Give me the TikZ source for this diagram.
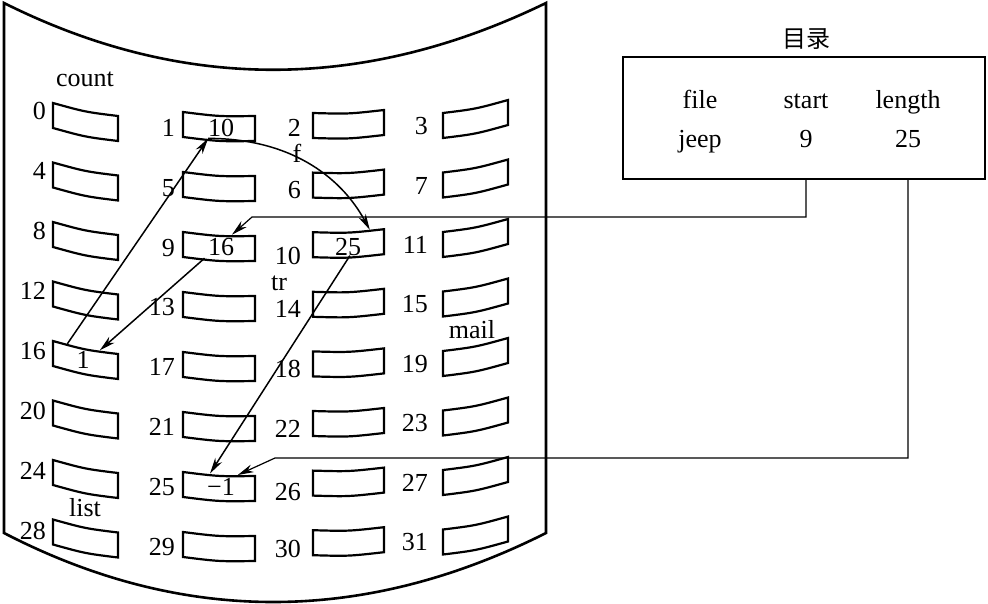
\documentclass[tikz,border=0pt]{standalone}
\usepackage{fontspec}
\setmainfont{Liberation Serif}
\newfontfamily\cjkfont{Noto Sans CJK SC}
\usetikzlibrary{arrows.meta,calc}
\newcommand{\dbox}[6]{%
  \pgfmathsetmacro{\dbmx}{(#2+#4)/2}%
  \pgfmathsetmacro{\dbmy}{(#3+#5)/2+2.5}%
  \pgfmathsetmacro{\dbmyb}{\dbmy+#6}%
  \pgfmathsetmacro{\dbyl}{#3+#6}%
  \pgfmathsetmacro{\dbyr}{#5+#6}%
  \coordinate (#1-tl) at (#2,#3);
  \coordinate (#1-tr) at (#4,#5);
  \coordinate (#1-bl) at (#2,\dbyl);
  \coordinate (#1-br) at (#4,\dbyr);
  \draw[boxline] (#1-tl) .. controls (\dbmx,\dbmy) .. (#1-tr) -- (#1-br) .. controls (\dbmx,\dbmyb) .. (#1-bl) -- cycle;
}
\begin{document}
\begin{tikzpicture}[x=1pt,y=-1pt,
  font=\fontsize{26}{30}\selectfont,
  boxline/.style={line width=2.2pt},
  disk/.style={line width=2.6pt},
  link/.style={line width=1.5pt, -{Stealth[length=16pt,width=8pt,inset=5pt]}},
  dirlink/.style={line width=1.2pt, -{Stealth[length=16pt,width=8pt,inset=5pt]}},
  num/.style={inner sep=0pt, anchor=east},
  val/.style={inner sep=0pt},
  hd/.style={inner sep=0pt, anchor=base},
]
\useasboundingbox (0,0) rectangle (988,603);
% disk outline
\draw[disk] (4,533) -- (4,3) .. controls (182,92) and (363,92) .. (546,3) -- (546,533)
  .. controls (363,625) and (182,625) .. (4,533) -- cycle;
% blocks
\foreach \i in {0,...,7}{
  \pgfmathtruncatemacro{\na}{4*\i}
  \pgfmathtruncatemacro{\nb}{4*\i+1}
  \pgfmathtruncatemacro{\nc}{4*\i+2}
  \pgfmathtruncatemacro{\nd}{4*\i+3}
  \pgfmathsetmacro{\ya}{103+59.5*\i}
  \pgfmathsetmacro{\yaa}{\ya+13}
  \pgfmathsetmacro{\yb}{112+60*\i}
  \pgfmathsetmacro{\ybb}{\yb+4}
  \pgfmathsetmacro{\yc}{113+59.6*\i}
  \pgfmathsetmacro{\ycc}{\yc-3}
  \pgfmathsetmacro{\yd}{113+59.5*\i}
  \pgfmathsetmacro{\ydd}{\yd-13}
  \dbox{b\na}{53}{\ya}{118}{\yaa}{25}
  \dbox{b\nb}{183}{\yb}{255}{\ybb}{25}
  \dbox{b\nc}{313}{\yc}{384}{\ycc}{25}
  \dbox{b\nd}{443}{\yd}{508}{\ydd}{25}
  \node[num] (l\na) at (46,111+60*\i) {\na};
  \node[num] (l\nb) at (175,128+59.8*\i) {\nb};
  \node[num] (l\nd) at (428,126+59.5*\i) {\nd};
}
\foreach \n/\y in {2/128,6/190,10/256,14/309,18/369,22/429,26/492,30/549}{
  \node[num] (l\n) at (301,\y) {\n};
}
% file names
\node[val] (count) at (85,79) {count};
\node[val] (mail) at (472,330) {mail};
\node[val] (list) at (85,508) {list};
\node[hd] (f) at (297,162) {f};
\node[hd] (tr) at (279,290) {tr};
% block contents
\node[val] (v1) at (221,128) {10};
\node[val] (v9) at (221,247) {16};
\node[val] (v10) at (348,247) {25};
\node[val] (v16) at (83,360) {1};
\node[val] (v25) at (221,487) {−1};
% directory
\node[draw, line width=2.4pt, minimum width=362pt, minimum height=122pt, inner sep=0pt] (dir) at (804,118) {};
\node[val] (title) at (806,39) {\cjkfont\fontsize{24}{28}\selectfont 目录};
\node[hd] (hfile) at (700,108) {file};
\node[hd] (hstart) at (806,108) {start};
\node[hd] (hlen) at (908,108) {length};
\node[hd] (jeep) at (700,147) {jeep};
\node[hd] (st9) at (806,147) {9};
\node[hd] (len25) at (908,147) {25};
% links
\draw[link] ($(b16-tl)!0.22!(b16-tr)$) -- ($(b1-bl)!0.35!(b1-br)$);
\draw[link] ($(b1-bl)!0.35!(b1-br)$) .. controls +(80,0) and +(-30,-55) .. ($(b10-tl)!0.8!(b10-tr)$);
\draw[link] ($(b9-bl)!0.3!(b9-br)$) -- ($(b16-tl)!0.72!(b16-tr)$);
\draw[link] ($(b10-bl)!0.52!(b10-br)$) -- ($(b25-tl)!0.375!(b25-tr)$);
\coordinate (k1) at (252,217);
\draw[dirlink] (hstart |- dir.south) |- (k1) -- ($(b9-tl)!0.68!(b9-tr)$);
\coordinate (k2) at (275,458);
\draw[dirlink] (hlen |- dir.south) |- (k2) -- ($(b25-tl)!0.76!(b25-tr)$);
\end{tikzpicture}
\end{document}
